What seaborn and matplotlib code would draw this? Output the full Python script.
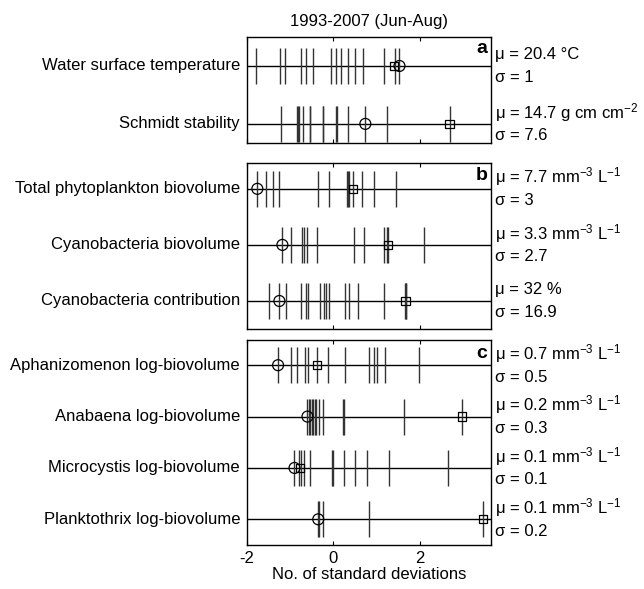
import seaborn as sns
import matplotlib.pyplot as plt
import matplotlib.transforms as mtransforms
import pandas as pd

sns.set_style("white")
plt.rcParams['font.family'] = ['Liberation Sans', 'DejaVu Sans']
plt.rcParams['mathtext.default'] = 'regular'
plt.rcParams['axes.unicode_minus'] = False
plt.rcParams['font.size'] = 12
plt.rcParams['text.color'] = 'black'
plt.rcParams['axes.labelcolor'] = 'black'
plt.rcParams['xtick.color'] = 'black'

# standardized anomalies per year (1993-2007)
temp = [-1.78, -1.24, -1.13, -0.75, -0.64, -0.47, -0.05, 0.06, 0.18, 0.34, 0.49, 0.68, 1.18, 1.43, 1.53]
schmidt = [-1.22, -0.84, -0.81, -0.79, -0.71, -0.55, -0.53, -0.25, -0.23, 0.05, 0.09, 0.33, 0.74, 1.23, 2.69]
phyto = [-1.76, -1.57, -1.39, -1.26, -0.35, -0.11, 0.31, 0.34, 0.37, 0.45, 0.67, 0.93, 1.45]
cyano = [-1.18, -0.98, -0.73, -0.67, -0.60, -0.39, 0.47, 0.70, 1.18, 1.25, 1.27, 2.09]
cyano_pct = [-1.50, -1.25, -1.10, -0.75, -0.64, -0.59, -0.31, -0.21, -0.16, -0.11, 0.26, 0.36, 0.57, 1.18, 1.65, 1.67, 1.69]
aphani = [-1.28, -0.98, -0.85, -0.65, -0.59, -0.38, -0.12, 0.28, 0.82, 0.95, 1.01, 1.20, 1.99]
anabaena = [-0.60, -0.56, -0.53, -0.50, -0.47, -0.43, -0.40, -0.34, -0.25, 0.22, 0.24, 1.63, 2.97]
microcystis = [-0.90, -0.79, -0.75, -0.67, -0.54, -0.04, -0.02, 0.24, 0.50, 0.78, 1.29, 2.66]
plankto = [-0.36, -0.33, -0.23, 0.83, 3.47]

# circle / square highlighted years
circles = [1.53, 0.74, -1.76, -1.18, -1.25, -1.28, -0.60, -0.90, -0.35]
squares = [1.40, 2.69, 0.45, 1.27, 1.67, -0.38, 2.97, -0.77, 3.47]

row_labels = ['Water surface temperature', 'Schmidt stability',
              'Total phytoplankton biovolume', 'Cyanobacteria biovolume',
              'Cyanobacteria contribution', 'Aphanizomenon log-biovolume',
              'Anabaena log-biovolume', 'Microcystis log-biovolume',
              'Planktothrix log-biovolume']
mu_labels = ['μ = 20.4 °C', 'μ = 14.7 g cm cm$^{-2}$',
             'μ = 7.7 mm$^{-3}$ L$^{-1}$', 'μ = 3.3 mm$^{-3}$ L$^{-1}$', 'μ = 32 %',
             'μ = 0.7 mm$^{-3}$ L$^{-1}$', 'μ = 0.2 mm$^{-3}$ L$^{-1}$',
             'μ = 0.1 mm$^{-3}$ L$^{-1}$', 'μ = 0.1 mm$^{-3}$ L$^{-1}$']
sigma_labels = ['σ = 1', 'σ = 7.6', 'σ = 3', 'σ = 2.7', 'σ = 16.9',
                'σ = 0.5', 'σ = 0.3', 'σ = 0.1', 'σ = 0.2']
series = [temp, schmidt, phyto, cyano, cyano_pct, aphani, anabaena, microcystis, plankto]

panel_letters = ['a', 'b', 'c']
panel_rows = [[0, 1], [2, 3, 4], [5, 6, 7, 8]]
panel_ylim = [(-0.33, 1.5), (-0.5, 2.46), (-0.5, 3.49)]
# axes boxes in figure fraction: left, bottom, width, height
panel_box = [(0.3835, 0.7572, 0.379, 0.180),
             (0.3835, 0.4414, 0.379, 0.2818),
             (0.3835, 0.0747, 0.379, 0.348)]

fig = plt.figure(figsize=(6.44, 5.89), dpi=100)

for p in range(3):
    ax = fig.add_axes(panel_box[p])
    rows = panel_rows[p]
    n = len(rows)
    trans = mtransforms.blended_transform_factory(ax.transAxes, ax.transData)
    for k, r in enumerate(rows):
        y = n - 1 - k
        ax.axhline(y, color='black', lw=1, zorder=1)
        df = pd.DataFrame({'x': series[r], 'y': [y] * len(series[r])})
        sns.scatterplot(data=df, x='x', y='y', marker='|', s=640, color='0.2',
                        linewidth=1, ax=ax, zorder=2)
        sns.scatterplot(x=[circles[r]], y=[y], marker='o', s=62, facecolor='none',
                        edgecolor='black', linewidth=0.9, ax=ax, zorder=3)
        sns.scatterplot(x=[squares[r]], y=[y], marker='s', s=36, facecolor='none',
                        edgecolor='black', linewidth=0.9, ax=ax, zorder=3)
        ax.annotate(row_labels[r], xy=(0, y), xycoords=trans, xytext=(-5, 0),
                    textcoords='offset points', ha='right', va='center')
        ax.annotate(mu_labels[r], xy=(1, y), xycoords=trans, xytext=(3, 8.5),
                    textcoords='offset points', ha='left', va='center')
        ax.annotate(sigma_labels[r], xy=(1, y), xycoords=trans, xytext=(3, -8.5),
                    textcoords='offset points', ha='left', va='center')
    ax.text(0.985, 0.975, panel_letters[p], transform=ax.transAxes, ha='right',
            va='top', fontsize=14, fontweight='bold')
    ax.set_xlim(-2, 3.65)
    ax.set_ylim(*panel_ylim[p])
    ax.set_yticks([])
    ax.set_xticks([-2, 0, 2])
    ax.tick_params(axis='x', direction='in', top=True, bottom=True, length=3,
                   width=0.8, color='black', labelsize=12, pad=4)
    ax.set_ylabel('')
    for s in ax.spines.values():
        s.set_color('black')
        s.set_linewidth(1)
    if p == 0:
        ax.set_title('1993-2007 (Jun-Aug)', fontsize=12, pad=8)
    if p < 2:
        ax.tick_params(axis='x', labelbottom=False)
        ax.set_xlabel('')
    else:
        ax.set_xlabel('No. of standard deviations', fontsize=12, labelpad=1)

fig.savefig('out.png', dpi=100)
